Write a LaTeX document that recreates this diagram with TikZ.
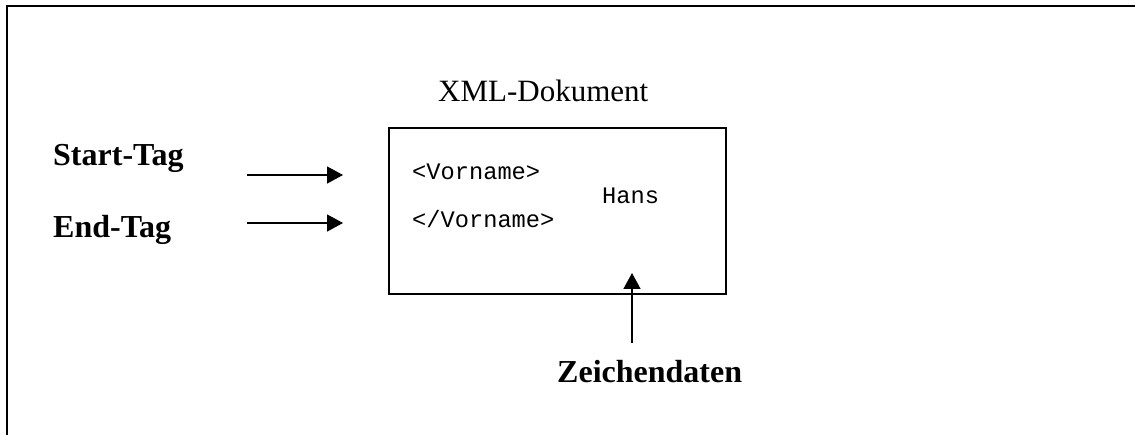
\documentclass[tikz,border=0pt]{standalone}
\usepackage{fontspec}
\setmainfont{Liberation Serif}
\setmonofont{Liberation Mono}
\usetikzlibrary{arrows.meta}

\begin{document}
\begin{tikzpicture}[x=1pt, y=-1pt, >={Triangle[length=16pt, width=17pt]},
	titel/.style={font=\fontsize{31}{36}\selectfont, anchor=base west, inner sep=0pt},
	marke/.style={font=\fontsize{32}{38}\selectfont\bfseries, anchor=base west, inner sep=0pt},
	code/.style={font=\fontsize{23.7}{28}\selectfont\ttfamily, anchor=base west, inner sep=0pt},
	pfeil/.style={->, line width=1.5pt}]

	\useasboundingbox (0,0) rectangle (1135,435);

	% Rahmen (links und oben)
	\draw[line width=2.5pt] (7,435) -- (7,6) -- (1135,6);

	% Dokument-Kasten mit Inhalt
	\node[draw, line width=2pt, minimum width=337pt, minimum height=166pt, inner sep=0pt] (dok) at (557.5,211) {};
	\node[titel] (xml) at (438,102) {XML-Dokument};
	\node[code] (auf) at (412,180) {<Vorname>};
	\node[code] (hans) at (602,204) {Hans};
	\node[code] (zu) at (412,228) {</Vorname>};

	% Beschriftungen
	\node[marke] (start) at (53,166) {Start-Tag};
	\node[marke] (ende) at (53,238) {End-Tag};
	\node[marke] (zeichen) at (557,382) {Zeichendaten};

	% Pfeilenden
	\coordinate (s1) at (247,175);
	\coordinate (s2) at (343,175);
	\coordinate (e1) at (247,223);
	\coordinate (e2) at (343,223);
	\coordinate (z1) at (632,343);
	\coordinate (z2) at (632,273);

	\draw[pfeil] (s1) -- (s2);
	\draw[pfeil] (e1) -- (e2);
	\draw[pfeil] (z1) -- (z2);
\end{tikzpicture}
\end{document}
